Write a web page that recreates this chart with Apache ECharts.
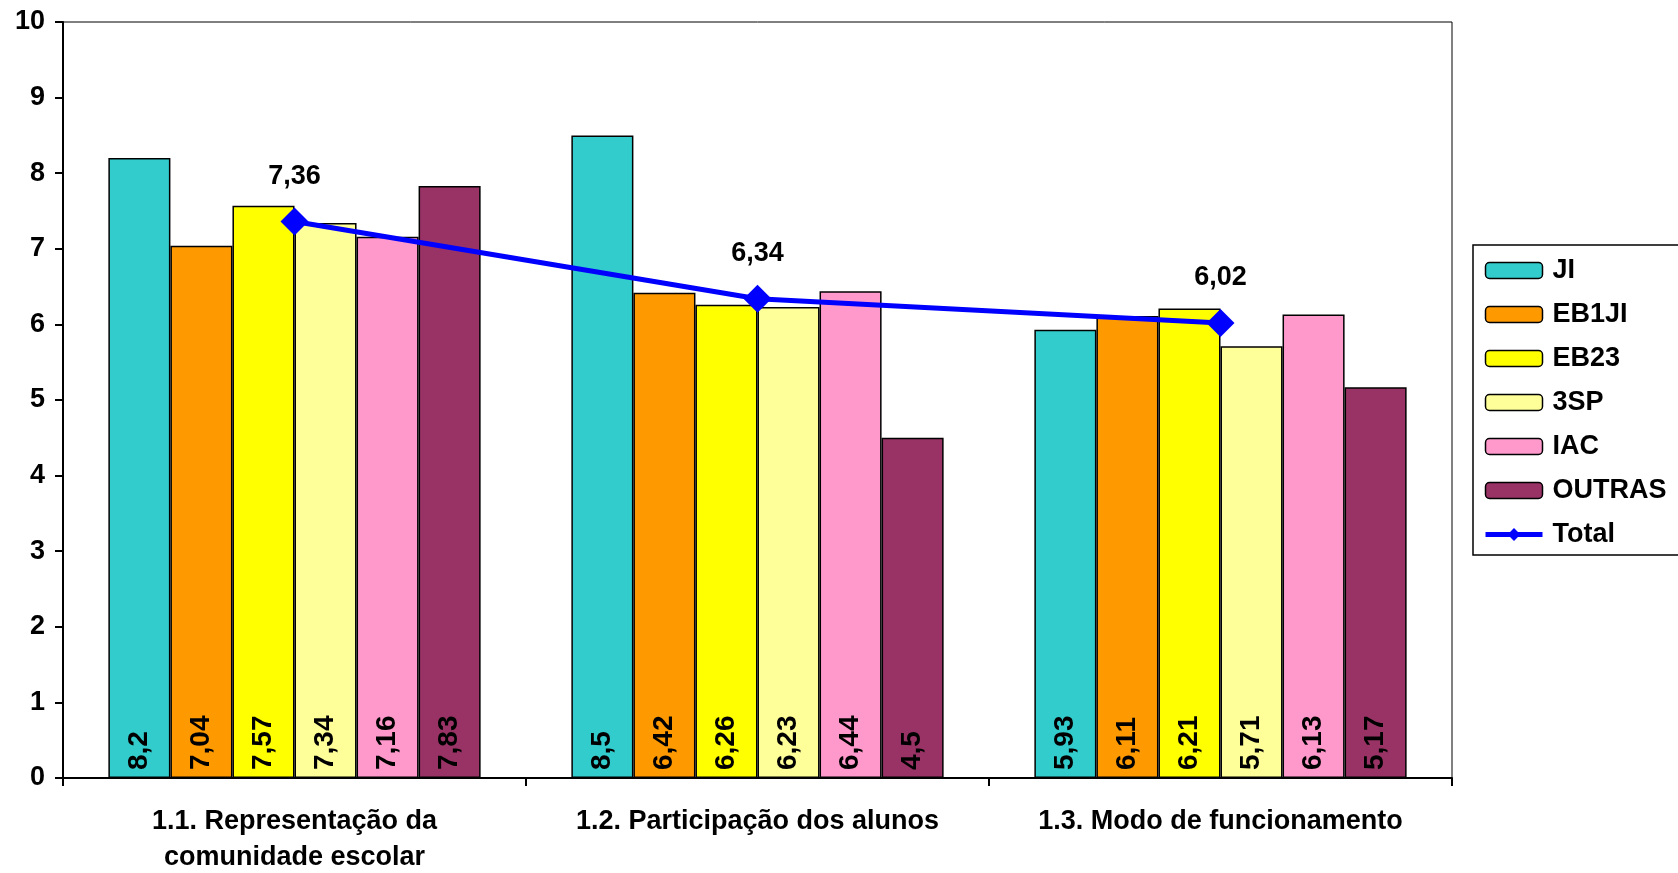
<!DOCTYPE html>
<html>
<head>
<meta charset="utf-8">
<script src="https://cdn.jsdelivr.net/npm/echarts@6/dist/echarts.min.js"></script>
<style>
  html, body { margin: 0; padding: 0; background: #fff; }
  #chart { width: 1678px; height: 873px; }
</style>
</head>
<body>
<div id="chart"></div>
<script>
// categorias
var categories = ['1.1. Representação da\ncomunidade escolar', '1.2. Participação dos alunos', '1.3. Modo de funcionamento'];
var seriesNames = ['JI', 'EB1JI', 'EB23', '3SP', 'IAC', 'OUTRAS'];
var seriesColors = ['#33CCCC', '#FF9900', '#FFFF00', '#FFFF99', '#FF99CC', '#993366'];
var ji = [8.2, 8.5, 5.93];
var eb1ji = [7.04, 6.42, 6.11];
var eb23 = [7.57, 6.26, 6.21];
var sp3 = [7.34, 6.23, 5.71];
var iac = [7.16, 6.44, 6.13];
var outras = [7.83, 4.5, 5.17];
var total = [7.36, 6.34, 6.02];
var barData = [ji, eb1ji, eb23, sp3, iac, outras];

var FONT = "'Liberation Sans', Arial, sans-serif";

function virgula(v) {
  return String(v).replace('.', ',');
}

var series = [];
for (var i = 0; i < barData.length; i++) {
  series.push({
    name: seriesNames[i],
    type: 'bar',
    data: barData[i],
    barGap: '0%',
    barCategoryGap: '19.6%',
    itemStyle: { color: seriesColors[i], borderColor: '#000', borderWidth: 1.5 },
    label: {
      show: true,
      position: 'insideBottom',
      rotate: 90,
      align: 'left',
      verticalAlign: 'middle',
      distance: 8,
      color: '#000',
      fontFamily: FONT,
      fontWeight: 'bold',
      fontSize: 28,
      formatter: function (p) { return virgula(p.value); }
    }
  });
}
series.push({
  name: 'Total',
  type: 'line',
  data: total,
  symbol: 'diamond',
  symbolSize: 28,
  z: 5,
  lineStyle: { color: '#0000FF', width: 5 },
  itemStyle: { color: '#0000FF' },
  label: {
    show: true,
    position: 'top',
    distance: 18,
    color: '#000',
    fontFamily: FONT,
    fontWeight: 'bold',
    fontSize: 27,
    formatter: function (p) { return virgula(p.value); }
  }
});

var legendData = seriesNames.map(function (n) {
  return { name: n, itemStyle: { borderColor: '#000', borderWidth: 1.5 } };
});
legendData.push({
  name: 'Total',
  itemStyle: { color: '#0000FF', borderWidth: 0 },
  lineStyle: { color: '#0000FF', width: 5 }
});

var myChart = echarts.init(document.getElementById('chart'));
myChart.setOption({
  animation: false,
  backgroundColor: '#fff',
  grid: {
    left: 63,
    right: 226,
    top: 22,
    bottom: 95,
    outerBoundsMode: 'none',
    show: true,
    borderColor: '#000',
    borderWidth: 1
  },
  legend: {
    orient: 'vertical',
    left: 1473,
    top: 245,
    padding: [12, 40, 7, 10],
    borderColor: '#000',
    borderWidth: 1.5,
    itemWidth: 57,
    itemHeight: 16,
    itemGap: 17,
    data: legendData,
    textStyle: {
      color: '#000',
      fontFamily: FONT,
      fontWeight: 'bold',
      fontSize: 27,
      padding: [0, 0, 0, 5]
    }
  },
  xAxis: {
    type: 'category',
    data: categories,
    axisLine: { lineStyle: { color: '#000', width: 2 } },
    axisTick: { show: true, length: 8, interval: 0, lineStyle: { color: '#000', width: 2 } },
    axisLabel: {
      margin: 26,
      interval: 0,
      color: '#000',
      fontFamily: FONT,
      fontWeight: 'bold',
      fontSize: 27,
      lineHeight: 36
    }
  },
  yAxis: {
    type: 'value',
    min: 0,
    max: 10,
    interval: 1,
    splitLine: { show: false },
    axisLine: { show: true, lineStyle: { color: '#000', width: 2 } },
    axisTick: { show: true, length: 8, lineStyle: { color: '#000', width: 2 } },
    axisLabel: {
      margin: 18,
      color: '#000',
      fontFamily: FONT,
      fontWeight: 'bold',
      fontSize: 27
    }
  },
  series: series
});
</script>
</body>
</html>
